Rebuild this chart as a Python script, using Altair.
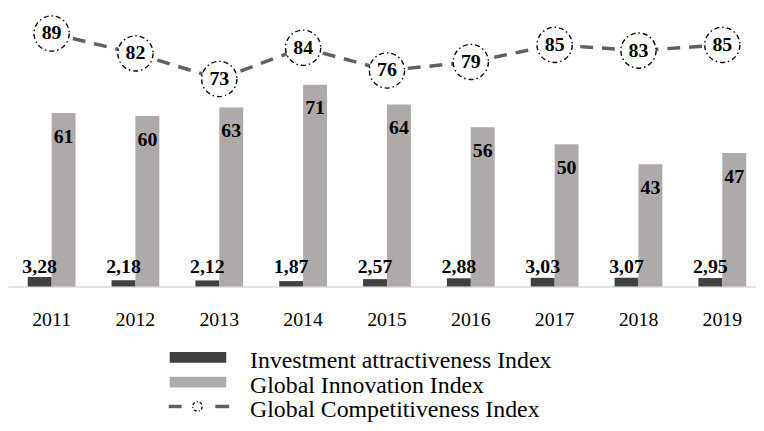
import altair as alt
import pandas as pd

years = ["2011", "2012", "2013", "2014", "2015", "2016", "2017", "2018", "2019"]
investment = [3.28, 2.18, 2.12, 1.87, 2.57, 2.88, 3.03, 3.07, 2.95]
innovation = [61, 60, 63, 71, 64, 56, 50, 43, 47]
competitiveness = [89, 82, 73, 84, 76, 79, 85, 83, 85]
series = ["Investment attractiveness Index", "Global Innovation Index", "Global Competitiveness Index"]

FONT = "Liberation Serif"

bars = pd.DataFrame(
    {"year": years * 2,
     "series": [series[0]] * len(years) + [series[1]] * len(years),
     "value": investment + innovation}
)
bars["label"] = bars["value"].map(lambda v: (f"{v:.2f}".replace(".", ",") if v < 10 else f"{int(v)}"))
line = pd.DataFrame({"year": years, "value": competitiveness})
line["label"] = line["value"].astype(str)

xscale = alt.Scale(paddingInner=0.43, paddingOuter=0.176, align=0.668)
xenc = alt.X("year:N", scale=xscale, sort=years,
             axis=alt.Axis(title=None, ticks=False, labelAngle=0, labelPadding=23,
                           labelFont=FONT, labelFontSize=20, labelColor="#000000",
                           domainColor="#d9d9d9", domainWidth=1.5, grid=False))
yscale = alt.Scale(domain=[0, 97.4], nice=False, zero=True)
yenc = alt.Y("value:Q", scale=yscale, axis=None)
offset = alt.XOffset("series:N", scale=alt.Scale(domain=series[:2]), sort=series[:2])

bar_layer = alt.Chart(bars).mark_bar().encode(
    x=xenc, y=yenc, xOffset=offset,
    color=alt.Color("series:N", scale=alt.Scale(domain=series[:2], range=["#404040", "#aeaaaa"]), legend=None),
)

inv_text = alt.Chart(bars).transform_filter(alt.datum.series == series[0]).mark_text(
    font=FONT, fontSize=20, fontWeight="bold", color="#000000", baseline="alphabetic"
).encode(x=xenc, xOffset=offset, y=alt.value(265), text="label:N")

inn_text = alt.Chart(bars).transform_filter(alt.datum.series == series[1]).mark_text(
    font=FONT, fontSize=20, fontWeight="bold", color="#000000", baseline="middle", dy=24
).encode(x=xenc, xOffset=offset, y=yenc, text="label:N")

line_layer = alt.Chart(line).mark_line(color="#606060", strokeWidth=3.5, strokeDash=[13, 9]).encode(x=xenc, y=yenc)
circles = alt.Chart(line).mark_point(
    shape="circle", size=1260, filled=True, fill="#ffffff", fillOpacity=1,
    stroke="#000000", strokeWidth=1.4, strokeDash=[5, 3, 1.5, 3], opacity=1
).encode(x=xenc, y=yenc)
circle_text = alt.Chart(line).mark_text(
    font=FONT, fontSize=20, fontWeight="bold", color="#000000", baseline="middle"
).encode(x=xenc, y=yenc, text="label:N")

# legend
one = lambda name: pd.DataFrame({"label": [name]})
leg_dark = alt.Chart(one(series[0])).mark_rect(color="#404040").encode(
    x=alt.value(163), x2=alt.value(220), y=alt.value(345), y2=alt.value(356))
leg_grey = alt.Chart(one(series[1])).mark_rect(color="#aeaaaa").encode(
    x=alt.value(163), x2=alt.value(220), y=alt.value(370), y2=alt.value(381))
leg_d1 = alt.Chart(one(series[2])).mark_rule(color="#606060", strokeWidth=3.5).encode(
    x=alt.value(162), x2=alt.value(175), y=alt.value(400))
leg_d2 = alt.Chart(one(series[2])).mark_rule(color="#606060", strokeWidth=3.5).encode(
    x=alt.value(209), x2=alt.value(223), y=alt.value(400))
leg_c = alt.Chart(one(series[2])).mark_point(
    shape="circle", size=90, filled=False, stroke="#000000", strokeWidth=1.3, strokeDash=[3, 2, 1, 2], opacity=1
).encode(x=alt.value(191), y=alt.value(400))
leg_texts = [
    alt.Chart(one(name)).mark_text(font=FONT, fontSize=24, color="#000000", align="left", baseline="alphabetic").encode(
        x=alt.value(244), y=alt.value(yy), text="label:N")
    for name, yy in zip(series, [361, 386, 411])
]

chart = alt.layer(
    bar_layer, inv_text, inn_text, line_layer, circles, circle_text,
    leg_dark, leg_grey, leg_d1, leg_d2, leg_c, *leg_texts
).properties(width=754, height=279, padding={"left": 0, "top": 0, "right": 0, "bottom": 0}
).configure_view(stroke=None)

chart.save("out.html", embed_options={"renderer": "svg", "actions": False})
